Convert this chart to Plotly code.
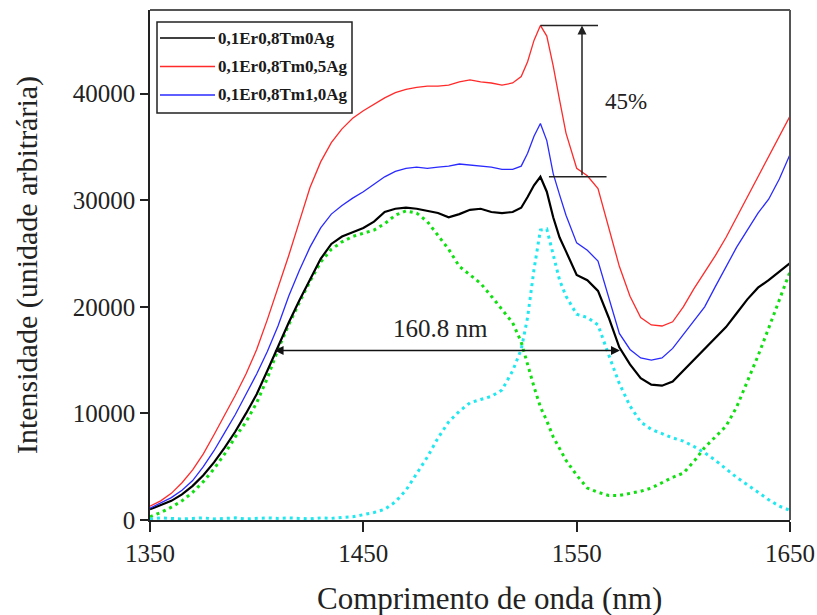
import plotly.graph_objects as go

wavelength = [1350, 1355, 1360, 1365, 1370, 1375, 1380, 1385, 1390, 1395,
              1400, 1405, 1410, 1415, 1420, 1425, 1430, 1435, 1440, 1445,
              1450, 1455, 1460, 1465, 1470, 1475, 1480, 1485, 1490, 1495,
              1500, 1505, 1510, 1515, 1520, 1524, 1527, 1530, 1533, 1536,
              1539, 1542, 1545, 1550, 1555, 1560, 1565, 1570, 1575, 1580,
              1585, 1590, 1595, 1600, 1605, 1610, 1615, 1620, 1625, 1630,
              1635, 1640, 1645, 1650]

ag0 = [1000, 1400, 1800, 2400, 3200, 4200, 5400, 6800, 8300, 10000,
       11800, 14000, 16300, 18500, 20600, 22600, 24500, 25900, 26600, 27000,
       27400, 28000, 28900, 29200, 29300, 29200, 29000, 28800, 28400, 28700,
       29100, 29200, 28900, 28800, 28900, 29300, 30300, 31400, 32200, 30800,
       28400, 26500, 25200, 23000, 22500, 21500, 19000, 16200, 14600, 13300,
       12700, 12600, 13000, 14000, 15000, 16000, 17000, 18100, 19400, 20700,
       21800, 22500, 23300, 24100]

ag05 = [1300, 1800, 2500, 3500, 4700, 6200, 8000, 9800, 11700, 13700,
        16000, 18800, 21700, 24800, 28000, 31200, 33600, 35400, 36700, 37700,
        38400, 39000, 39600, 40100, 40400, 40600, 40700, 40700, 40800, 41100,
        41300, 41100, 41000, 40800, 41000, 41600, 43000, 45000, 46400, 45400,
        42600, 39400, 36300, 33000, 32300, 31100, 27500, 23800, 21000, 19000,
        18300, 18200, 18600, 20000, 21700, 23200, 24800, 26500, 28400, 30300,
        32200, 34000, 35900, 37900]

ag10 = [1100, 1600, 2100, 2800, 3700, 5000, 6500, 8200, 9900, 11800,
        13700, 15800, 18200, 21000, 23400, 25600, 27400, 28700, 29500, 30200,
        30800, 31500, 32200, 32700, 33000, 33100, 33000, 33100, 33200, 33400,
        33300, 33200, 33100, 32900, 32900, 33200, 34400, 36000, 37200, 35600,
        32500, 30500, 28600, 26000, 25300, 24300, 21000, 17500, 16000, 15200,
        15000, 15200, 16100, 17400, 18600, 20000, 21900, 23800, 25600, 27200,
        28800, 30100, 32000, 34300]

green_band = [300, 700, 1200, 1800, 2600, 3600, 4800, 6200, 7800, 9200,
              11000, 13300, 16000, 18300, 20400, 22400, 24200, 25400, 26100, 26600,
              26900, 27200, 27800, 28600, 29000, 28800, 28000, 26700, 25400, 23800,
              23000, 22200, 21000, 19800, 18500, 16700, 14500, 12500, 10600, 9300,
              7800, 6700, 5600, 4200, 3000, 2600, 2300, 2300, 2500, 2700,
              3000, 3500, 4000, 4400, 5500, 6800, 7800, 8800, 10600, 13000,
              15400, 18000, 20600, 23300]

cyan_band = [100, 200, 150, 100, 150, 200, 100, 150, 200, 100,
             150, 200, 150, 200, 150, 100, 200, 150, 250, 300,
             500, 700, 1000, 1700, 2800, 4300, 5900, 7700, 9200, 10200,
             11000, 11300, 11600, 12200, 14000, 16000, 19000, 23500, 27200, 27300,
             24800, 22500, 21000, 19300, 19000, 18300, 15500, 12800, 10700, 9200,
             8500, 8100, 7700, 7400, 6900, 6300, 5600, 4800, 4000, 3300,
             2600, 1900, 1300, 900]

series_names = ["0,1Er0,8Tm0Ag", "0,1Er0,8Tm0,5Ag", "0,1Er0,8Tm1,0Ag"]
series_colors = ["#000000", "#ff2a2a", "#2a2aff"]

x_ticks = [1350, 1450, 1550, 1650]
y_ticks = [0, 10000, 20000, 30000, 40000]

x_title = "Comprimento de onda (nm)"
y_title = "Intensidade (unidade arbitrária)"

# annotation values
peak_top = 46400
peak_bottom = 32200
fwhm_left = 1407.7
fwhm_right = 1570.3
fwhm_level = 15900

FONT = "Times New Roman, Liberation Serif, serif"

fig = go.Figure()

fig.add_trace(go.Scatter(x=wavelength, y=green_band, mode="lines",
                         line=dict(color="#10e010", width=3, dash="3px,4px"),
                         showlegend=False))
fig.add_trace(go.Scatter(x=wavelength, y=cyan_band, mode="lines",
                         line=dict(color="#20e8f0", width=3, dash="3px,4px"),
                         showlegend=False))

widths = [2.2, 1.3, 1.3]
for ys, name, col, w in zip([ag0, ag05, ag10], series_names, series_colors, widths):
    fig.add_trace(go.Scatter(x=wavelength, y=ys, mode="lines", name=name,
                             line=dict(color=col, width=w), showlegend=False))

shapes = []
annotations = []

# gray frame top/right
shapes.append(dict(type="line", xref="paper", yref="paper", x0=0, x1=1, y0=1, y1=1,
                   line=dict(color="#555555", width=2)))
shapes.append(dict(type="line", xref="paper", yref="paper", x0=1, x1=1, y0=0, y1=1,
                   line=dict(color="#555555", width=2)))

# 45% marker
shapes.append(dict(type="line", xref="x", yref="y", x0=1533, x1=1560, y0=peak_top, y1=peak_top,
                   line=dict(color="#222222", width=1.5)))
shapes.append(dict(type="line", xref="x", yref="y", x0=1537, x1=1564, y0=peak_bottom, y1=peak_bottom,
                   line=dict(color="#222222", width=1.5)))
annotations.append(dict(x=1552.5, y=peak_top, ax=1552.5, ay=peak_bottom, xref="x", yref="y",
                        axref="x", ayref="y", text="", showarrow=True, arrowhead=2,
                        arrowsize=1.2, arrowwidth=1.5, arrowcolor="#222222"))
annotations.append(dict(x=1573, y=39300, xref="x", yref="y", text="45%", showarrow=False,
                        font=dict(family=FONT, size=23, color="#222222")))

# FWHM marker
annotations.append(dict(x=fwhm_right, y=fwhm_level, ax=fwhm_left, ay=fwhm_level, xref="x", yref="y",
                        axref="x", ayref="y", text="", showarrow=True, arrowhead=2,
                        startarrowhead=2, arrowside="end+start", arrowsize=1.2,
                        startarrowsize=1.2, arrowwidth=1.5, arrowcolor="#111111"))
annotations.append(dict(x=1486, y=17950, xref="x", yref="y", text="160.8 nm", showarrow=False,
                        font=dict(family=FONT, size=25, color="#222222")))

# manual legend box (paper coords: plot area 640x510 px)
def px(xp):
    return (xp - 150) / 640.0

def py(yp):
    return (520 - yp) / 510.0

shapes.append(dict(type="rect", xref="paper", yref="paper", x0=px(157), x1=px(352),
                   y0=py(113), y1=py(22), line=dict(color="#222222", width=1.5),
                   fillcolor="white", layer="above"))
for i, (name, col) in enumerate(zip(series_names, series_colors)):
    yy = py(38 + 28.5 * i)
    shapes.append(dict(type="line", xref="paper", yref="paper", x0=px(160), x1=px(215),
                       y0=yy, y1=yy, line=dict(color=col, width=1.5), layer="above"))
    annotations.append(dict(x=px(216), y=yy, xref="paper", yref="paper", text=name,
                            showarrow=False, xanchor="left", yanchor="middle",
                            font=dict(family=FONT, size=17, color="#1a1a1a", weight="bold")))

# x-axis title (slightly right of centre as in the original)
annotations.append(dict(x=px(489), y=py(598), xref="paper", yref="paper", text=x_title,
                        showarrow=False, xanchor="center", yanchor="middle",
                        font=dict(family=FONT, size=31, color="#222222")))

fig.update_layout(
    width=817, height=615,
    margin=dict(l=150, r=27, t=10, b=95, autoexpand=False),
    paper_bgcolor="white", plot_bgcolor="white",
    shapes=shapes, annotations=annotations,
    showlegend=False,
    font=dict(family=FONT, color="#222222"),
)
fig.update_xaxes(range=[1350, 1650], tickvals=x_ticks, ticktext=[str(v) for v in x_ticks],
                 ticks="outside", ticklen=10, tickwidth=1.5, tickcolor="#222222",
                 showline=True, linecolor="#222222", linewidth=1.5,
                 showgrid=False, zeroline=False, automargin=False,
                 tickfont=dict(family=FONT, size=25, color="#222222"))
fig.update_yaxes(range=[0, 47850], tickvals=y_ticks, ticktext=[str(v) for v in y_ticks],
                 ticks="outside", ticklen=8, tickwidth=1.5, tickcolor="#222222",
                 showline=True, linecolor="#222222", linewidth=1.5,
                 showgrid=False, zeroline=False, automargin=False,
                 tickfont=dict(family=FONT, size=25, color="#222222"),
                 title=dict(text=y_title, standoff=26,
                            font=dict(family=FONT, size=30, color="#222222")))

fig.write_html("out.html")
